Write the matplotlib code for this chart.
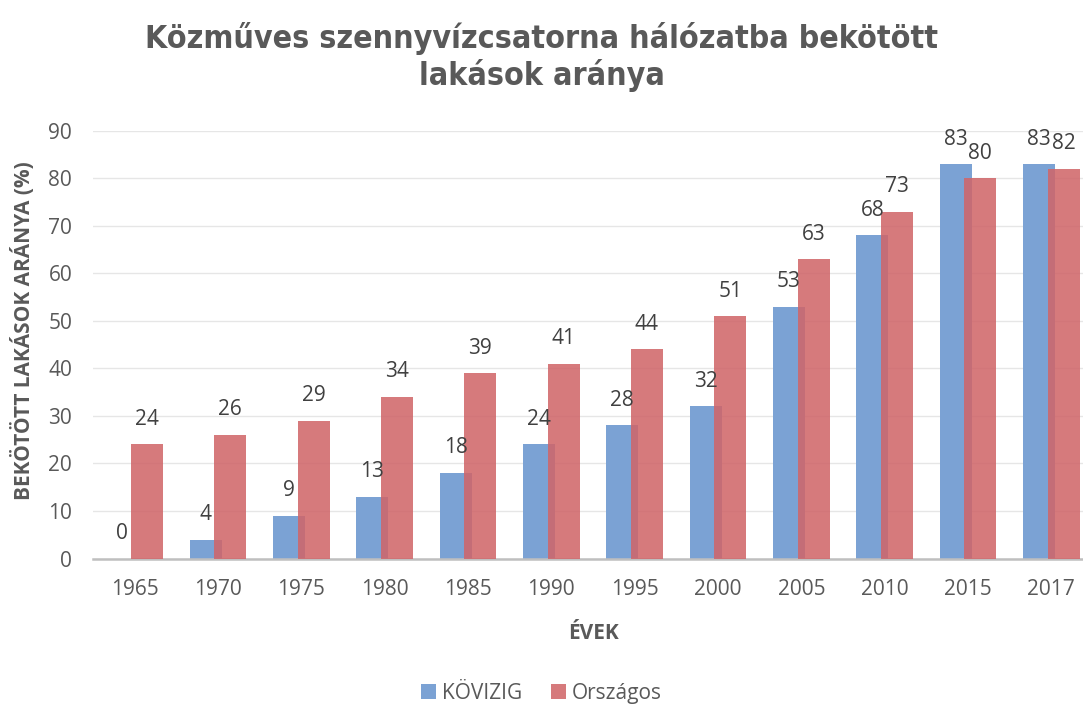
import os
import numpy as np
import matplotlib
matplotlib.use("Agg")
import matplotlib.pyplot as plt
from matplotlib import font_manager

years = ["1965", "1970", "1975", "1980", "1985", "1990", "1995", "2000", "2005", "2010", "2015", "2017"]
kovizig = [0, 4, 9, 13, 18, 24, 28, 32, 53, 68, 83, 83]
orszagos = [24, 26, 29, 34, 39, 41, 44, 51, 63, 73, 80, 82]

# keskeny félkövér betű a címhez, ha van
title_prop = font_manager.FontProperties(family='Liberation Sans', weight='bold')
files = {os.path.basename(f.fname): f.fname for f in font_manager.fontManager.ttflist}
for cand in ['LiberationSansNarrow-Bold.ttf', 'DejaVuSansCondensed-Bold.ttf']:
    if cand in files:
        title_prop = font_manager.FontProperties(fname=files[cand])
        break

plt.rcParams['font.family'] = ['Open Sans', 'DejaVu Sans']

fig = plt.figure(figsize=(10.83, 7.07), dpi=100)
ax = fig.add_axes([93 / 1083, 0.21, 1000 / 1083, 0.605])

x = np.arange(len(years))
w = 0.385
off = 0.148
text_col = '#595959'

ax.bar(x - off, kovizig, w, color='#7ba2d4', label='KÖVIZIG', zorder=2)
ax.bar(x + off, orszagos, w, color='#d06669', alpha=0.87, label='Országos', zorder=3)

for xi, v in zip(x, kovizig):
    ax.annotate(str(v), (xi - off, v), xytext=(0, 18), textcoords='offset points',
                ha='center', va='center', fontsize=15, color='#404040')
for xi, v in zip(x, orszagos):
    ax.annotate(str(v), (xi + off, v), xytext=(0, 18), textcoords='offset points',
                ha='center', va='center', fontsize=15, color='#404040')

ax.set_ylim(0, 90)
ax.set_yticks(range(0, 91, 10))
ax.set_xlim(-0.5, len(years) - 0.5)
ax.set_xticks(x)
ax.set_xticklabels(years)
ax.tick_params(axis='both', length=0, labelsize=15, colors=text_col)
ax.tick_params(axis='x', pad=15)
ax.tick_params(axis='y', pad=15)
ax.grid(axis='y', color='#e6e6e6', linewidth=1, zorder=0)
ax.set_axisbelow(True)
for s in ['top', 'right', 'left']:
    ax.spines[s].set_visible(False)
ax.spines['bottom'].set_color('#bfbfbf')
ax.spines['bottom'].set_linewidth(1.8)

ax.set_xlabel('ÉVEK', fontsize=15, fontweight='bold', color=text_col, labelpad=16)
ax.set_ylabel('BEKÖTÖTT LAKÁSOK ARÁNYA (%)', fontsize=15, fontweight='bold', color=text_col)
ax.yaxis.set_label_coords(-0.058, 0.533)

fig.text(0.5, 0.92, 'Közműves szennyvízcsatorna hálózatba bekötött\nlakások aránya',
         ha='center', va='center', fontsize=23, color='#595959',
         fontproperties=title_prop, linespacing=1.15)

fig.legend(loc='lower center', bbox_to_anchor=(0.5, -0.022), ncol=2, frameon=False,
           fontsize=15, handlelength=0.7, handleheight=0.7, columnspacing=1.4,
           handletextpad=0.3, labelcolor=text_col)

fig.savefig('out.png', dpi=100)
